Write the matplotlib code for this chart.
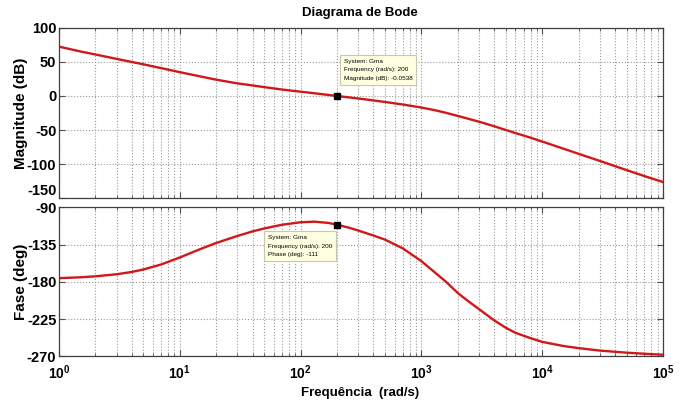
import matplotlib.pyplot as plt
from matplotlib import font_manager
from matplotlib.ticker import FixedLocator, LogLocator, NullFormatter

# frequency response of Gma, read at these frequencies (rad/s)
freq = [1, 1.5, 2, 3, 4, 5, 7, 10, 15, 20, 30, 40, 50, 70, 100, 130, 170, 200,
        250, 300, 400, 500, 700, 1000, 1300, 1600, 2000, 2500, 3000, 4000,
        5000, 6000, 8000, 1e4, 1.5e4, 2e4, 3e4, 5e4, 7e4, 1e5]
mag_db = [72.5, 65.5, 61, 54.5, 50, 46.5, 41, 35, 28.5, 24, 18.5, 15.5, 13,
          9.5, 6.3, 4, 1.5, -0.05, -2, -3.7, -6.5, -8.8, -12.5, -17, -21,
          -24.8, -29.3, -34, -37.8, -44.5, -50, -54.5, -61.3, -67, -77.5,
          -85, -95.5, -109, -117.7, -126.5]
phase_deg = [-175.5, -174.5, -173.3, -170.8, -168, -165, -159, -150.5, -140,
             -133, -124.5, -119, -115.5, -111, -108, -107.3, -108.8, -111,
             -114.5, -118, -124, -129, -139.5, -155, -169, -180, -193.5,
             -204.5, -213, -226.5, -235.5, -241.5, -248, -252.5, -257.5,
             -260, -263, -265.5, -266.8, -268]

# data tip values
tip_freq = 200
tip_mag = -0.0538
tip_phase = -111

mag_ticks = [100, 50, 0, -50, -100, -150]
phase_ticks = [-90, -135, -180, -225, -270]
freq_ticks = [1, 10, 100, 1000, 1e4, 1e5]
freq_labels = ['10$^{0}$', '10$^{1}$', '10$^{2}$', '10$^{3}$', '10$^{4}$', '10$^{5}$']

installed = {f.name for f in font_manager.fontManager.ttflist}
family = 'Liberation Sans Narrow' if 'Liberation Sans Narrow' in installed else 'Liberation Sans'
plt.rcParams['font.family'] = family
plt.rcParams['mathtext.fontset'] = 'custom'
plt.rcParams['mathtext.rm'] = family
plt.rcParams['mathtext.bf'] = family + ':bold'
plt.rcParams['mathtext.default'] = 'bf'

RED = '#d01818'


def style_axes(ax, yticks, ylim):
    ax.set_xscale('log')
    ax.set_xlim(freq_ticks[0], freq_ticks[-1])
    ax.set_ylim(*ylim)
    ax.set_yticks(yticks)
    ax.set_yticklabels([str(t) for t in yticks], fontweight='bold', fontsize=10.5)
    ax.xaxis.set_major_locator(FixedLocator(freq_ticks))
    ax.xaxis.set_minor_locator(LogLocator(base=10, subs=range(2, 10)))
    ax.xaxis.set_minor_formatter(NullFormatter())
    ax.grid(True, which='both', ls=':', color='#9a9a9a', lw=0.8)
    ax.tick_params(which='both', direction='in', top=True, right=True, color='#505050')
    ax.tick_params(which='major', length=4)
    ax.tick_params(which='minor', length=2.5)
    ax.tick_params(axis='y', pad=2)
    ax.tick_params(axis='x', pad=5)
    for s in ax.spines.values():
        s.set_color('#404040')
        s.set_linewidth(0.9)


def data_tip(ax, x, y, lines, tx, ty):
    ax.plot([x], [y], 's', color='black', ms=4, zorder=5)
    ax.text(tx, ty, '\n'.join(lines), transform=ax.transAxes, ha='left', va='top',
            fontsize=4.6, fontweight='normal', linespacing=1.9, zorder=6,
            bbox=dict(boxstyle='square,pad=0.6', fc='#ffffe1', ec='#c8c8b0', lw=0.8))


fig = plt.figure(figsize=(6.88, 4.05), dpi=100)
ax1 = fig.add_axes([0.0858, 0.511, 0.878, 0.42])
ax2 = fig.add_axes([0.0858, 0.12, 0.878, 0.368])

ax1.plot(freq, mag_db, color=RED, lw=1.7)
style_axes(ax1, mag_ticks, (-150, 100))
ax1.xaxis.set_ticklabels([])
ax1.get_yticklabels()[-1].set_verticalalignment('bottom')
ax1.set_ylabel('Magnitude (dB)', fontweight='bold', fontsize=11)
ax1.yaxis.set_label_coords(-0.052, 0.5)
data_tip(ax1, tip_freq, tip_mag,
         ['System: Gma', 'Frequency (rad/s): 200', 'Magnitude (dB): -0.0538'],
         0.471, 0.82)

ax2.plot(freq, phase_deg, color=RED, lw=1.7)
style_axes(ax2, phase_ticks, (-270, -90))
ax2.set_xticklabels(freq_labels, fontweight='bold', fontsize=10)
ax2.set_ylabel('Fase (deg)', fontweight='bold', fontsize=11)
ax2.yaxis.set_label_coords(-0.052, 0.5)
ax2.set_xlabel('Frequência  (rad/s)', fontweight='bold', fontsize=9.5)
ax2.xaxis.set_label_coords(0.498, -0.205)
data_tip(ax2, tip_freq, tip_phase,
         ['System: Gma', 'Frequency (rad/s): 200', 'Phase (deg): -111'],
         0.346, 0.815)

fig.text(0.523, 0.967, 'Diagrama de Bode', ha='center', va='center',
         fontweight='bold', fontsize=9.5)

fig.savefig('out.png', dpi=100, facecolor='white')
